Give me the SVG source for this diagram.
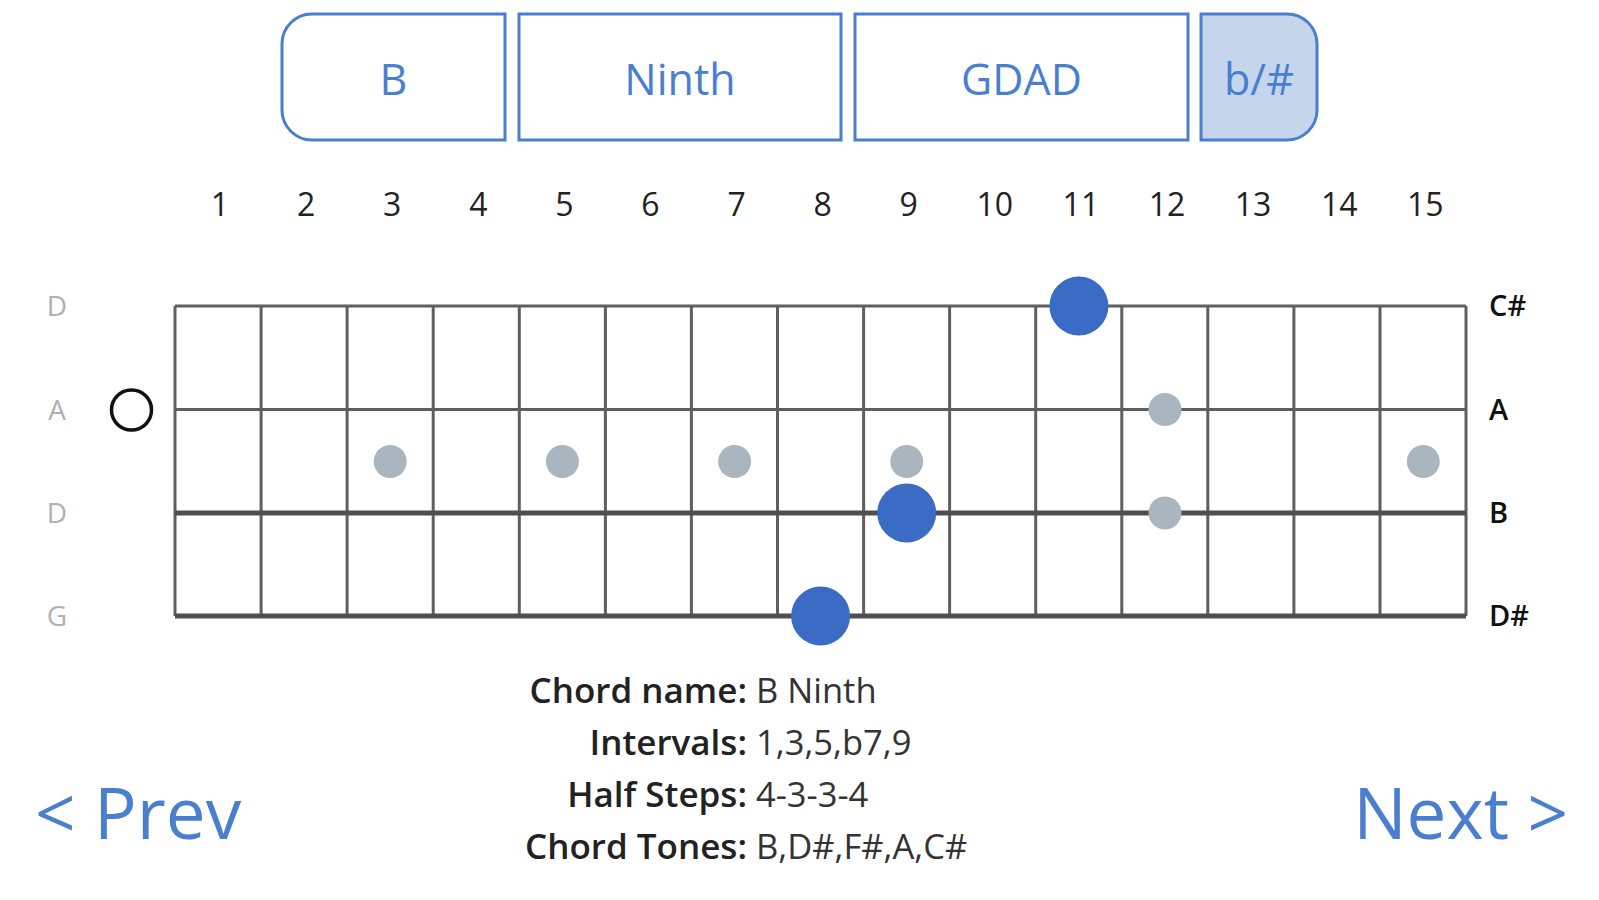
<svg xmlns="http://www.w3.org/2000/svg" width="1599" height="900" viewBox="0 0 1599 900">
<style>
.btn{fill:#fff;stroke:#4a7fd0;stroke-width:3}
.btnt{font-family:"Open Sans","Noto Sans",sans-serif;font-size:43px;fill:#4a7fd0;text-anchor:middle}
.num{font-family:"Open Sans","Noto Sans",sans-serif;font-size:32px;fill:#222;text-anchor:middle}
.sl{font-family:"Open Sans","Noto Sans",sans-serif;font-size:28px;fill:#b0b0b0;text-anchor:middle}
.sr{font-family:"Open Sans","Noto Sans",sans-serif;font-size:29px;font-weight:600;fill:#111}
.fret{stroke:#5f5f5f;stroke-width:3}
.str{stroke:#5f5f5f;stroke-width:3}
.strk{stroke:#4f4f4f;stroke-width:5}
.dot{fill:#3a6cc6}
.mk{fill:#a9b5bf}
.lb{font-family:"Open Sans","Noto Sans",sans-serif;font-size:35px;font-weight:600;fill:#222;text-anchor:end}
.lv{font-family:"Open Sans","Noto Sans",sans-serif;font-size:34.5px;fill:#333}
.nav{font-family:"Open Sans","Noto Sans",sans-serif;font-size:71px;fill:#4a7fd0}
</style>
<rect width="1599" height="900" fill="#fff"/>
<g id="btn-root"><path class="btn" d="M312,14 H505 V140 H312 A30,30 0 0 1 282,110 V44 A30,30 0 0 1 312,14 Z"/><text class="btnt" x="393.5" y="95">B</text></g>
<g id="btn-type"><rect class="btn" x="519" y="14" width="322" height="126"/><text class="btnt" x="680" y="95">Ninth</text></g>
<g id="btn-tuning"><rect class="btn" x="855" y="14" width="333" height="126"/><text class="btnt" x="1021.5" y="95">GDAD</text></g>
<g id="btn-acc"><path d="M1201,14 H1287 A30,30 0 0 1 1317,44 V110 A30,30 0 0 1 1287,140 H1201 Z" fill="#c5d5ec" stroke="#4a7fd0" stroke-width="3"/><text class="btnt" x="1259" y="95">b/#</text></g>
<g id="fret-numbers">
<text class="num" x="220" y="216">1</text><text class="num" x="306.1" y="216">2</text><text class="num" x="392.2" y="216">3</text><text class="num" x="478.3" y="216">4</text><text class="num" x="564.4" y="216">5</text><text class="num" x="650.5" y="216">6</text><text class="num" x="736.6" y="216">7</text><text class="num" x="822.6" y="216">8</text><text class="num" x="908.7" y="216">9</text><text class="num" x="994.8" y="216">10</text><text class="num" x="1080.9" y="216">11</text><text class="num" x="1167" y="216">12</text><text class="num" x="1253.1" y="216">13</text><text class="num" x="1339.2" y="216">14</text><text class="num" x="1425.3" y="216">15</text>
</g>
<g id="string-labels-left">
<text class="sl" x="57" y="316">D</text><text class="sl" x="57" y="420">A</text><text class="sl" x="57" y="523">D</text><text class="sl" x="57" y="626">G</text>
</g>
<g id="string-labels-right">
<text class="sr" x="1489" y="316">C#</text><text class="sr" x="1489" y="420">A</text><text class="sr" x="1489" y="523">B</text><text class="sr" x="1489" y="626">D#</text>
</g>
<g id="fretboard">
<line class="fret" x1="175" y1="306" x2="175" y2="616"/><line class="fret" x1="261.1" y1="306" x2="261.1" y2="616"/><line class="fret" x1="347.1" y1="306" x2="347.1" y2="616"/><line class="fret" x1="433.2" y1="306" x2="433.2" y2="616"/><line class="fret" x1="519.3" y1="306" x2="519.3" y2="616"/><line class="fret" x1="605.4" y1="306" x2="605.4" y2="616"/><line class="fret" x1="691.4" y1="306" x2="691.4" y2="616"/><line class="fret" x1="777.5" y1="306" x2="777.5" y2="616"/><line class="fret" x1="863.6" y1="306" x2="863.6" y2="616"/><line class="fret" x1="949.6" y1="306" x2="949.6" y2="616"/><line class="fret" x1="1035.7" y1="306" x2="1035.7" y2="616"/><line class="fret" x1="1121.8" y1="306" x2="1121.8" y2="616"/><line class="fret" x1="1207.8" y1="306" x2="1207.8" y2="616"/><line class="fret" x1="1293.9" y1="306" x2="1293.9" y2="616"/><line class="fret" x1="1380" y1="306" x2="1380" y2="616"/><line class="fret" x1="1466" y1="306" x2="1466" y2="616"/>
<line class="str" x1="175" y1="306" x2="1466" y2="306"/><line class="str" x1="175" y1="409.5" x2="1466" y2="409.5"/><line class="strk" x1="175" y1="513" x2="1466" y2="513"/><line class="strk" x1="175" y1="616" x2="1466" y2="616"/>
</g>
<g id="markers">
<circle class="mk" cx="390.2" cy="461.5" r="16.5"/><circle class="mk" cx="562.4" cy="461.5" r="16.5"/><circle class="mk" cx="734.6" cy="461.5" r="16.5"/><circle class="mk" cx="906.7" cy="461.5" r="16.5"/><circle class="mk" cx="1423.3" cy="461.5" r="16.5"/><circle class="mk" cx="1165" cy="409.5" r="16.5"/><circle class="mk" cx="1165" cy="513" r="16.5"/>
</g>
<g id="open-string"><circle cx="131.5" cy="410" r="20" fill="none" stroke="#111" stroke-width="3.5"/></g>
<g id="notes">
<circle class="dot" cx="1078.9" cy="306" r="29.5"/><circle class="dot" cx="906.7" cy="513" r="29.5"/><circle class="dot" cx="820.6" cy="616" r="29.5"/>
</g>
<g id="info">
<text class="lb" x="747" y="703">Chord name:</text><text class="lv" x="756" y="703">B Ninth</text>
<text class="lb" x="747" y="755">Intervals:</text><text class="lv" x="756" y="755">1,3,5,b7,9</text>
<text class="lb" x="747" y="807">Half Steps:</text><text class="lv" x="756" y="807">4-3-3-4</text>
<text class="lb" x="747" y="859">Chord Tones:</text><text class="lv" x="756" y="859">B,D#,F#,A,C#</text>
</g>
<g id="nav">
<text class="nav" x="35" y="839">&lt; Prev</text><text class="nav" x="1568" y="839" text-anchor="end">Next &gt;</text>
</g>
</svg>
